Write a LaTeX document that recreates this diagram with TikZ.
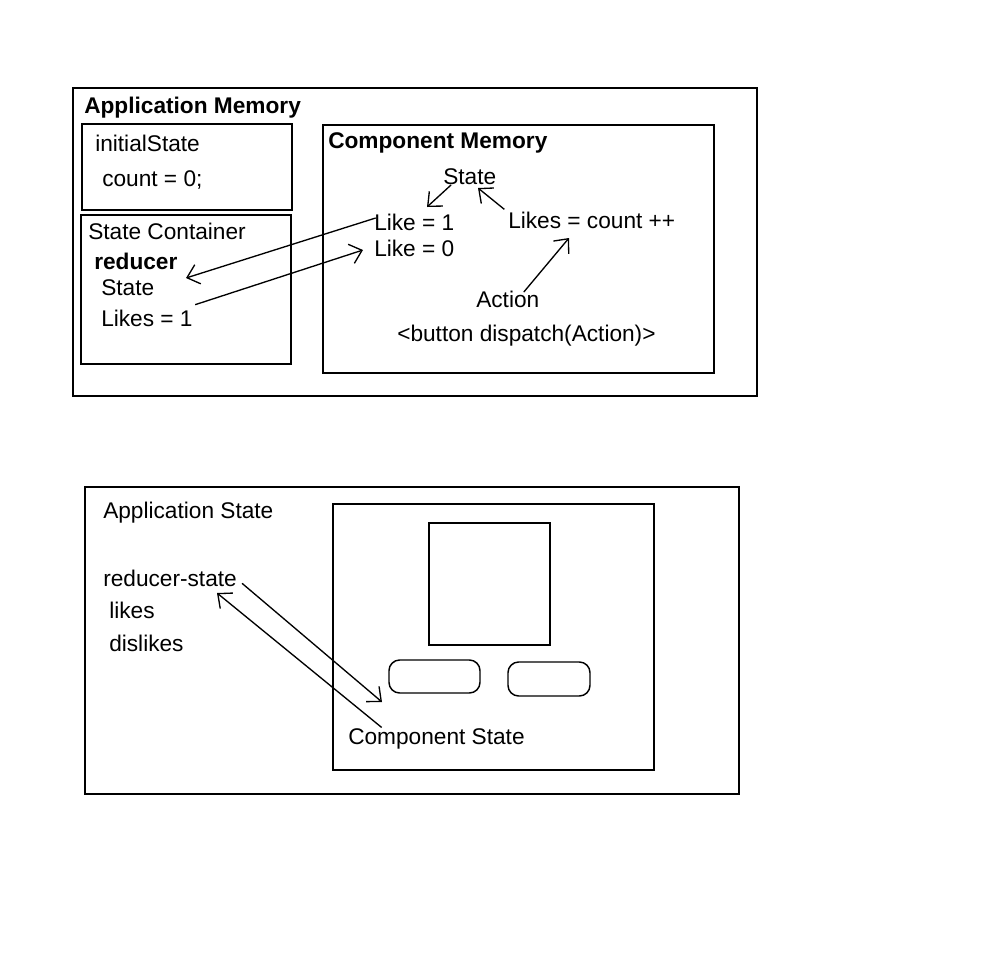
\documentclass[tikz,border=0pt]{standalone}
\usepackage{fontspec}
\setmainfont{Liberation Sans}
\usetikzlibrary{arrows.meta}

\tikzset{
  lbl/.style={anchor=west,inner sep=0.75pt,font=\fontsize{17}{20}\selectfont},
  lblb/.style={lbl,font=\fontsize{17}{20}\selectfont\bfseries},
  frame/.style={line width=1.1pt},
  arr/.style={line width=1pt,-{Straight Barb[length=8.5pt,width=15pt,line width=1pt]}}
}

\begin{document}
\begin{tikzpicture}[x=0.75pt,y=0.75pt,yscale=-1,xscale=1]
\useasboundingbox (0,0) rectangle (1000,968);

%Shape: Rectangle - top frame
\draw [frame] (73,88) rectangle (757,396);
\draw [frame] (82,124) rectangle (292,210);
\draw [frame] (81,215) rectangle (291,364);
\draw [frame] (323,125) rectangle (714,373);

% Text Node
\draw (83,108) node [lblb] (appmem) {Application Memory};
\draw (94,143) node [lbl] (initst) {initialState};
\draw (101,180) node [lbl] (count) {count = 0;};
\draw (87,231) node [lbl] (stcont) {State Container};
\draw (93,261) node [lblb] (reducer) {reducer};
\draw (100,288) node [lbl] (rstate) {State};
\draw (100,318) node [lbl] (rlikes) {Likes = 1};
\draw (327,143) node [lblb] (compmem) {Component Memory};
\draw (442,177) node [lbl] (cstate) {State};
\draw (373,222) node [lbl] (like1) {Like = 1};
\draw (373,248) node [lbl] (like0) {Like = 0};
\draw (507,220) node [lbl] (likescnt) {Likes = count ++};
\draw (475,299) node [lbl] (action) {Action};
\draw (396,336) node [lbl] (button) {<button dispatch(Action)>};

% Arrow ends
\coordinate (tipreducer) at (186,278);
\coordinate (tiplike0) at (363,250);
\coordinate (tiplike1) at (427,207);
\coordinate (tipcstate) at (478,188);
\coordinate (tipcount) at (569,238);

%Straight Lines
\draw [arr] ([xshift=2,yshift=-3]like1.west) -- (tipreducer);
\draw [arr] ([xshift=1,yshift=-10]rlikes.east) -- (tiplike0);
\draw [arr] ([xshift=-14,yshift=-1]cstate.south) -- (tiplike1);
\draw [arr] ([xshift=-2,yshift=-8]likescnt.west) -- (tipcstate);
\draw [arr] ([xshift=12,yshift=2]action.north) -- (tipcount);

%Shape: Rectangle - bottom frame
\draw [frame] (85,487) rectangle (739,794);
\draw [frame] (333,504) rectangle (654,770);
\draw [frame] (429,523) rectangle (550,645);
\draw [frame,rounded corners=8pt] (389,660) rectangle (480,693);
\draw [frame,rounded corners=8pt] (508,662) rectangle (590,696);

% Text Node
\draw (102,513) node [lbl] (appstate) {Application State};
\draw (102,578) node [lbl] (redst) {reducer-state};
\draw (108,610) node [lbl] (likes) {likes};
\draw (108,643) node [lbl] (dislikes) {dislikes};
\draw (347,739) node [lbl] (compst) {Component State};

% Arrow ends
\coordinate (tipcomp) at (382,702);
\coordinate (tipredst) at (217,593);

%Straight Lines
\draw [arr] ([xshift=3,yshift=4]redst.east) -- (tipcomp);
\draw [arr] ([xshift=26,yshift=0]compst.north west) -- (tipredst);

\end{tikzpicture}
\end{document}
